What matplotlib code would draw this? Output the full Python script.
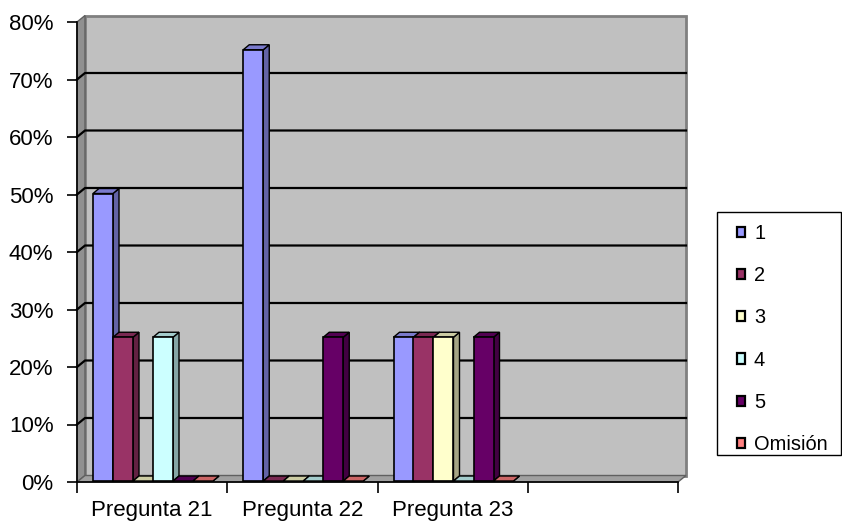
import matplotlib
matplotlib.use("Agg")
import matplotlib.pyplot as plt
from matplotlib.patches import Polygon, Rectangle
from matplotlib.colors import to_rgb

plt.rcParams['font.family'] = ['Liberation Sans', 'DejaVu Sans']

# data (fourth slot is empty)
categories = ["Pregunta 21", "Pregunta 22", "Pregunta 23", ""]
series_names = ["1", "2", "3", "4", "5", "Omisión"]
colors = ["#9999FF", "#993366", "#FFFFCC", "#CCFFFF", "#660066", "#FF8080"]
values = {
    "1":       [0.50, 0.75, 0.25, None],
    "2":       [0.25, 0.00, 0.25, None],
    "3":       [0.00, 0.00, 0.25, None],
    "4":       [0.25, 0.00, 0.00, None],
    "5":       [0.00, 0.25, 0.25, None],
    "Omisión": [0.00, 0.00, 0.00, None],
}
yticks = [0.0, 0.1, 0.2, 0.3, 0.4, 0.5, 0.6, 0.7, 0.8]
ytick_labels = ["0%", "10%", "20%", "30%", "40%", "50%", "60%", "70%", "80%"]

W, H = 842, 523
fig = plt.figure(figsize=(W / 100, H / 100), dpi=100)
# plot area in pixels: x 77..678, y 22..482
ax = fig.add_axes([77 / W, 1 - 482 / H, (678 - 77) / W, (482 - 22) / H])
ax.set_xlim(0, len(categories))
ax.set_ylim(0, 0.8)
ax.set_facecolor("none")

# pixel -> data units
ux = len(categories) / (678 - 77)
uy = 0.8 / (482 - 22)
DX, DY = 8 * ux, 6.5 * uy          # wall depth
BDX, BDY = 6 * ux, 5 * uy          # bar depth
BOX, BOY = 1 * ux, 1 * uy          # bar front offset
ncat = len(categories)


def shade(c, f):
    r, g, b = to_rgb(c)
    return (r * f, g * f, b * f)


# back wall
ax.add_patch(Rectangle((DX, DY), ncat, 0.8, facecolor="#C0C0C0",
                       edgecolor="#808080", lw=2, clip_on=False, zorder=1))
# side wall
ax.add_patch(Polygon([(0, 0), (0, 0.8), (DX, 0.8 + DY), (DX, DY)],
                     facecolor="#909090", edgecolor="#606060", lw=1,
                     clip_on=False, zorder=1))
# floor
ax.add_patch(Polygon([(0, 0), (ncat, 0), (ncat + DX, DY), (DX, DY)],
                     facecolor="#A0A0A0", edgecolor="#606060", lw=1,
                     clip_on=False, zorder=1))
# gridlines
for y in yticks[1:-1]:
    ax.plot([0, DX, ncat + DX], [y, y + DY, y + DY], color="black", lw=1.6,
            clip_on=False, zorder=2)

# bars
bw = 20 * ux
start = 15 * ux
for c in range(ncat):
    for s, name in enumerate(series_names):
        v = values[name][c]
        if v is None:
            continue
        x0 = c + start + s * bw + BOX
        col = colors[s]
        ax.add_patch(Polygon([(x0 + bw, BOY), (x0 + bw, v + BOY),
                              (x0 + bw + BDX, v + BOY + BDY), (x0 + bw + BDX, BOY + BDY)],
                             facecolor=shade(col, 0.65), edgecolor="black", lw=1,
                             clip_on=False, zorder=3))
        ax.add_patch(Polygon([(x0, v + BOY), (x0 + bw, v + BOY),
                              (x0 + bw + BDX, v + BOY + BDY), (x0 + BDX, v + BOY + BDY)],
                             facecolor=shade(col, 0.8), edgecolor="black", lw=1,
                             clip_on=False, zorder=3))
        if v > 0:
            ax.add_patch(Rectangle((x0, BOY), bw, v, facecolor=col,
                                   edgecolor="black", lw=1.2, clip_on=False, zorder=3))

# axes
for sp in ["top", "right"]:
    ax.spines[sp].set_visible(False)
ax.spines["left"].set_linewidth(1.2)
ax.spines["bottom"].set_linewidth(1.2)
ax.spines["left"].set_zorder(4)
ax.spines["bottom"].set_zorder(4)

ax.set_yticks(yticks)
ax.set_yticklabels(ytick_labels, fontsize=16)
ax.tick_params(axis="y", direction="out", length=7, width=1.2, pad=10)

ax.set_xticks([c + 0.5 for c in range(ncat)])
ax.set_xticklabels(categories, fontsize=16)
ax.set_xticks(range(ncat + 1), minor=True)
ax.tick_params(axis="x", which="major", length=0, pad=13)
ax.tick_params(axis="x", which="minor", direction="out", length=8, width=1.2)

# legend: frame drawn as a figure rectangle, entries placed inside it
fig.patches.append(Rectangle((717 / W, 1 - 455 / H), 124 / W, 243 / H,
                             transform=fig.transFigure, facecolor="white",
                             edgecolor="black", lw=1, zorder=0))
handles = [Rectangle((0, 0), 1, 1, facecolor=colors[i], edgecolor="black", lw=1.6)
           for i in range(len(series_names))]
leg = fig.legend(handles, series_names, loc="upper left",
                 bbox_to_anchor=(737 / W, 1 - 224 / H), fontsize=14.4,
                 handlelength=0.4, handleheight=0.4, handletextpad=0.45,
                 labelspacing=1.16, borderpad=0, borderaxespad=0,
                 frameon=False)

fig.savefig("out.png", dpi=100)
